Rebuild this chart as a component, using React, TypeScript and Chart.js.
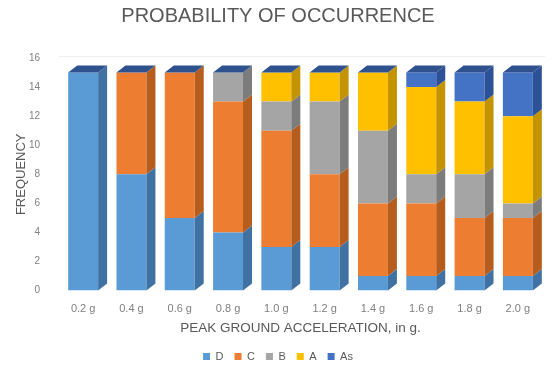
import React, { useEffect, useRef } from "react";
import { Chart, registerables } from "chart.js";

Chart.register(...registerables);

// Peak ground acceleration levels
const categories = ["0.2 g", "0.4 g", "0.6 g", "0.8 g", "1.0 g", "1.2 g", "1.4 g", "1.6 g", "1.8 g", "2.0 g"];

// Frequency of each damage grade per acceleration level
const seriesD = [15, 8, 5, 4, 3, 3, 1, 1, 1, 1];
const seriesC = [0, 7, 10, 9, 8, 5, 5, 5, 4, 4];
const seriesB = [0, 0, 0, 2, 2, 5, 5, 2, 3, 1];
const seriesA = [0, 0, 0, 0, 2, 2, 4, 6, 5, 6];
const seriesAs = [0, 0, 0, 0, 0, 0, 0, 1, 2, 3];

const yTicks = [0, 2, 4, 6, 8, 10, 12, 14, 16];

const seriesDefs = [
  { label: "D", data: seriesD, front: "#5B9BD5", side: "#3F72A3" },
  { label: "C", data: seriesC, front: "#ED7D31", side: "#B65D1E" },
  { label: "B", data: seriesB, front: "#A5A5A5", side: "#7C7C7C" },
  { label: "A", data: seriesA, front: "#FFC000", side: "#C49300" },
  { label: "As", data: seriesAs, front: "#4472C4", side: "#2D5196" },
];

const FONT = "'Liberation Sans', Arial, sans-serif";
const DEPTH_X = 9;
const DEPTH_Y = 7;
const PLOT_LEFT = 59;
const LEFT_PAD = 14;

// Faint back-wall edge along the top of the plot
const backWall = {
  id: "backWall",
  beforeDatasetsDraw(chart: any) {
    const { ctx, chartArea } = chart;
    ctx.save();
    ctx.strokeStyle = "#EEEEEE";
    ctx.lineWidth = 1;
    ctx.beginPath();
    ctx.moveTo(chartArea.left, chartArea.top - 1.5);
    ctx.lineTo(chartArea.right + 3, chartArea.top - 1.5);
    ctx.stroke();
    ctx.restore();
  },
};

// Draws the right-hand side and the top of every stacked column to give a box look
const boxFaces = {
  id: "boxFaces",
  afterDatasetsDraw(chart: any) {
    const ctx = chart.ctx;
    const n = chart.data.labels.length;
    const tops: { left: number; right: number; top: number }[] = [];
    chart.data.datasets.forEach((ds: any, di: number) => {
      const meta = chart.getDatasetMeta(di);
      meta.data.forEach((bar: any, i: number) => {
        const p = bar.getProps(["x", "y", "base", "width"], true);
        const right = p.x + p.width / 2;
        const left = p.x - p.width / 2;
        const top = Math.min(p.y, p.base);
        const bottom = Math.max(p.y, p.base);
        if (bottom - top > 0.5) {
          ctx.save();
          ctx.fillStyle = ds.sideColor;
          ctx.beginPath();
          ctx.moveTo(right, top);
          ctx.lineTo(right + DEPTH_X, top - DEPTH_Y);
          ctx.lineTo(right + DEPTH_X, bottom - DEPTH_Y);
          ctx.lineTo(right, bottom);
          ctx.closePath();
          ctx.fill();
          ctx.restore();
        }
        if (!tops[i] || top < tops[i].top) tops[i] = { left, right, top };
      });
    });
    for (let i = 0; i < n; i++) {
      const t = tops[i];
      if (!t) continue;
      ctx.save();
      ctx.fillStyle = "#2F528F";
      ctx.beginPath();
      ctx.moveTo(t.left, t.top);
      ctx.lineTo(t.left + DEPTH_X, t.top - DEPTH_Y);
      ctx.lineTo(t.right + DEPTH_X, t.top - DEPTH_Y);
      ctx.lineTo(t.right, t.top);
      ctx.closePath();
      ctx.fill();
      ctx.restore();
    }
  },
};

export default function App() {
  const ref = useRef<HTMLCanvasElement | null>(null);

  useEffect(() => {
    if (!ref.current) return;
    const chart = new Chart(ref.current, {
      type: "bar",
      data: {
        labels: categories,
        datasets: seriesDefs.map((s) => ({
          label: s.label,
          data: s.data,
          backgroundColor: s.front,
          sideColor: s.side,
          borderWidth: 0,
          categoryPercentage: 1,
          barPercentage: 0.62,
        })) as any,
      },
      options: {
        animation: false,
        responsive: false,
        layout: { padding: { left: LEFT_PAD, right: 11, top: 0, bottom: 0 } },
        plugins: {
          title: {
            display: true,
            text: "PROBABILITY OF OCCURRENCE",
            color: "#595959",
            font: { family: FONT, size: 20, weight: "normal" },
            padding: { top: 4, bottom: 30 },
          },
          legend: {
            position: "bottom",
            labels: {
              color: "#595959",
              font: { family: FONT, size: 11 },
              boxWidth: 7,
              boxHeight: 7,
              padding: 11,
            },
          },
          tooltip: { enabled: false },
        },
        scales: {
          x: {
            stacked: true,
            grid: { display: false },
            border: { display: false },
            ticks: { color: "#7F7F7F", font: { family: FONT, size: 11 }, padding: 4 },
            title: {
              display: true,
              text: "PEAK GROUND ACCELERATION, in g.",
              color: "#595959",
              font: { family: FONT, size: 13.5 },
              padding: { top: 0, bottom: 4 },
            },
          },
          y: {
            stacked: true,
            min: 0,
            max: 16,
            afterBuildTicks: (axis: any) => {
              axis.ticks = yTicks.map((v) => ({ value: v }));
            },
            afterFit: (axis: any) => {
              axis.width = PLOT_LEFT - LEFT_PAD;
            },
            grid: { display: false },
            border: { display: false },
            ticks: { color: "#7F7F7F", font: { family: FONT, size: 10 }, padding: 11 },
            title: {
              display: true,
              text: "FREQUENCY",
              color: "#595959",
              font: { family: FONT, size: 13 },
              padding: { top: 0, bottom: 0 },
            },
          },
        },
      },
      plugins: [backWall, boxFaces],
    });
    return () => chart.destroy();
  }, []);

  return (
    <div style={{ position: "fixed", left: 0, top: 0, width: 553, height: 372, background: "#fff" }}>
      <canvas ref={ref} width={553} height={372} />
    </div>
  );
}
